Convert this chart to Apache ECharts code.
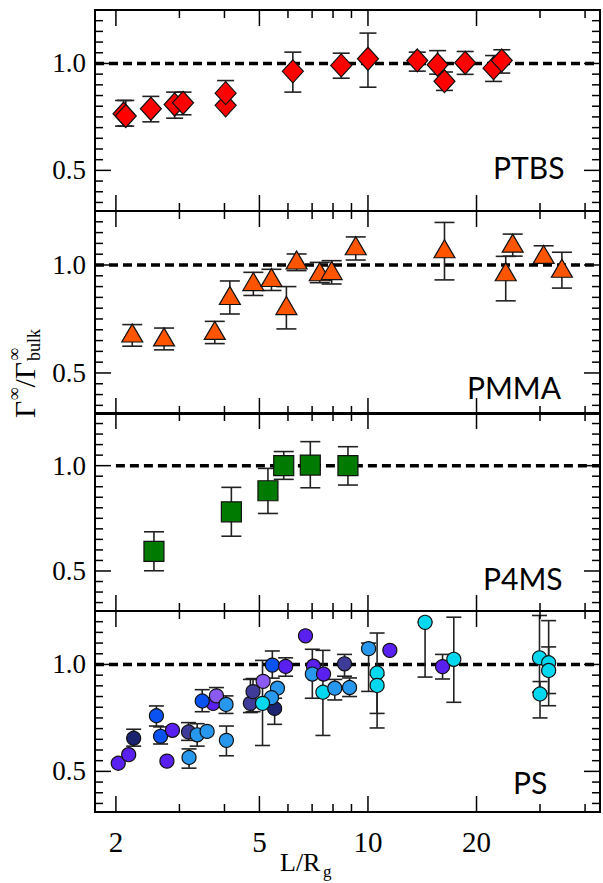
<!DOCTYPE html>
<html>
<head>
<meta charset="utf-8">
<script src="https://cdn.jsdelivr.net/npm/echarts@6/dist/echarts.min.js"></script>
<style>
html,body{margin:0;padding:0;background:#fff;}
#c{width:603px;height:883px;}
</style>
</head>
<body>
<div id="c"></div>
<script>
// ---------------- data ----------------
const panelNames = ['PTBS', 'PMMA', 'P4MS', 'PS'];

// PTBS (red diamonds)
const ptbsX  = [2.10, 2.13, 2.50, 2.91, 3.07, 4.03, 4.03, 6.19, 8.43, 10.0, 13.7, 15.6, 16.3, 18.6, 22.3, 23.5];
const ptbsY  = [0.765, 0.754, 0.788, 0.808, 0.816, 0.804, 0.861, 0.963, 0.991, 1.022, 1.014, 0.994, 0.917, 1.003, 0.978, 1.014];
const ptbsLo = [0.707, 0.707, 0.727, 0.744, 0.760, null, 0.800, 0.866, 0.931, 0.889, 0.964, 0.950, 0.874, 0.949, 0.916, 0.955];
const ptbsHi = [0.827, 0.827, 0.846, 0.866, 0.866, null, 0.920, 1.053, 1.048, 1.142, 1.053, 1.060, 0.960, 1.056, 1.037, 1.064];

// PMMA (orange triangles)
const pmmaX  = [2.22, 2.72, 3.76, 4.14, 4.81, 5.40, 5.94, 6.34, 7.35, 7.93, 9.25, 16.3, 24.1, 25.2, 30.7, 34.5];
const pmmaY  = [0.685, 0.667, 0.697, 0.859, 0.923, 0.942, 0.812, 1.023, 0.969, 0.974, 1.089, 1.075, 0.969, 1.101, 1.049, 0.985];
const pmmaLo = [0.624, 0.607, 0.636, 0.773, 0.859, 0.882, 0.704, 0.974, 0.918, 0.912, 1.023, 0.931, 0.834, 1.041, 1.008, 0.893];
const pmmaHi = [0.724, 0.708, 0.739, 0.926, 0.966, 0.980, 0.900, 1.051, 1.012, 1.020, 1.130, 1.197, 1.040, 1.143, 1.089, 1.059];

// P4MS (green squares)
const p4msX  = [2.55, 4.18, 5.28, 5.84, 6.92, 8.80];
const p4msY  = [0.593, 0.781, 0.881, 1.000, 1.003, 1.000];
const p4msLo = [0.501, 0.665, 0.773, 0.935, 0.895, 0.908];
const p4msHi = [0.686, 0.897, 0.987, 1.067, 1.114, 1.090];

// PS (circles, several molecular weights -> colour group)
const psX  = [2.03, 2.17, 2.24, 2.59, 2.66, 2.77, 2.87, 3.18, 3.19, 3.36, 3.58, 3.72, 3.47, 3.80, 4.04, 4.05,
              4.72, 4.80, 5.12, 5.51, 5.43, 5.91, 5.61, 5.40, 5.10, 6.71, 7.06, 7.01, 7.53, 7.50, 8.09, 8.61, 8.89,
              10.04, 10.6, 10.6, 11.5, 14.4, 16.1, 17.3, 29.9, 30.0, 31.7, 31.7];
const psY  = [0.538, 0.578, 0.655, 0.760, 0.664, 0.548, 0.692, 0.684, 0.565, 0.671, 0.687, 0.818, 0.829, 0.853, 0.813, 0.645,
              0.818, 0.873, 0.921, 0.794, 0.997, 0.991, 0.889, 0.845, 0.818, 1.134, 0.992, 0.955, 0.955, 0.870, 0.889, 1.003, 0.892,
              1.074, 0.960, 0.902, 1.066, 1.197, 0.990, 1.024, 1.031, 0.862, 1.008, 0.972];
const psLo = [null, null, 0.618, 0.712, 0.628, null, null, 0.645, 0.515, 0.618, null, null, 0.779, 0.810, 0.771, 0.573,
              0.775, 0.779, null, 0.720, 0.936, 0.945, null, null, 0.621, null, null, 0.842, null, 0.668, 0.834, 0.945, 0.850,
              0.874, 0.771, 0.703, null, 0.941, 0.932, 0.823, 0.870, 0.750, 0.807, 0.864];
const psHi = [null, null, 0.697, 0.806, 0.708, null, null, 0.728, 0.605, 0.723, null, null, 0.882, 0.892, 0.853, 0.712,
              0.930, 0.934, null, 0.842, 1.063, 1.031, null, null, 1.019, null, null, 1.071, null, 1.066, 0.930, 1.047, 0.937,
              1.100, 1.147, 0.950, null, 1.197, 1.047, 1.221, 1.229, 0.920, 1.205, 1.082];
const psGroup = [0, 0, 1, 2, 2, 0, 0, 4, 5, 5, 5, 0, 2, 3, 5, 5,
                 4, 4, 3, 1, 2, 0, 5, 5, 6, 0, 0, 5, 0, 6, 5, 4, 5,
                 5, 6, 6, 0, 6, 0, 6, 6, 6, 6, 6];
const psPalette = ['#5a20f0', '#1c2470', '#0a52f2', '#8a5af2', '#3e3c98', '#2798ee', '#00d8f0'];

// axes
const xRange = [1.75, 44];
const yRange = [0.31, 1.25];
const xTickValues = [2, 3, 4, 5, 6, 7, 8, 9, 10, 20, 30, 40];
const xTickMajor  = [1, 0, 0, 1, 0, 0, 0, 0, 1, 1, 0, 0];
const xLabelValues = [2, 5, 10, 20];
const yTickValues = [0.35, 0.40, 0.45, 0.50, 0.55, 0.60, 0.65, 0.70, 0.75, 0.80, 0.85, 0.90, 0.95, 1.00, 1.05, 1.10, 1.15, 1.20];
const yTickMajor  = [0, 0, 0, 1, 0, 0, 0, 0, 0, 0, 0, 0, 0, 1, 0, 0, 0, 0];
const yLabelValues = [0.5, 1.0];
const refValue = 1.0;
const refStart = [1.75, 1.75, 2.0, 1.75];

// ---------------- layout ----------------
const gridTops = [10, 211, 413, 611];
const gridHeights = [201, 203, 198, 201];
const capWidths = [17, 20, 20, 15];

const chart = echarts.init(document.getElementById('c'), null, {renderer: 'svg'});

const serif = 'Liberation Serif';

const grids = [], xAxes = [], yAxes = [], series = [];

function xTickRender(params, api) {
  const cs = params.coordSys;
  const px = api.coord([api.value(0), 1])[0];
  const len = api.value(1) ? 16 : 8;
  const st = {stroke: '#000', lineWidth: 1.5};
  return {type: 'group', children: [
    {type: 'line', shape: {x1: px, y1: cs.y, x2: px, y2: cs.y + len}, style: st},
    {type: 'line', shape: {x1: px, y1: cs.y + cs.height, x2: px, y2: cs.y + cs.height - len}, style: st}
  ]};
}
function yTickRender(params, api) {
  const cs = params.coordSys;
  const py = api.coord([2, api.value(1)])[1];
  const len = api.value(2) ? 16 : 8;
  const st = {stroke: '#000', lineWidth: 1.5};
  return {type: 'group', children: [
    {type: 'line', shape: {x1: cs.x, y1: py, x2: cs.x + len, y2: py}, style: st},
    {type: 'line', shape: {x1: cs.x + cs.width, y1: py, x2: cs.x + cs.width - len, y2: py}, style: st}
  ]};
}
function ebRender(capW) {
  return function (params, api) {
    const x = api.value(0), lo = api.value(1), hi = api.value(2);
    const p1 = api.coord([x, hi]);
    const p2 = api.coord([x, lo]);
    const h = capW / 2;
    const st = {stroke: '#222', lineWidth: 1.6};
    return {type: 'group', children: [
      {type: 'line', shape: {x1: p1[0], y1: p1[1], x2: p2[0], y2: p2[1]}, style: st},
      {type: 'line', shape: {x1: p1[0] - h, y1: p1[1], x2: p1[0] + h, y2: p1[1]}, style: st},
      {type: 'line', shape: {x1: p2[0] - h, y1: p2[1], x2: p2[0] + h, y2: p2[1]}, style: st}
    ]};
  };
}
function ebData(xs, lo, hi) {
  const out = [];
  xs.forEach((x, i) => { if (lo[i] != null && hi[i] != null) out.push([x, lo[i], hi[i]]); });
  return out;
}
function pts(xs, ys) { return xs.map((x, i) => [x, ys[i]]); }

const panels = [
  {x: ptbsX, y: ptbsY, lo: ptbsLo, hi: ptbsHi, symbol: 'diamond', size: [21, 23], color: '#ff0000'},
  {x: pmmaX, y: pmmaY, lo: pmmaLo, hi: pmmaHi, symbol: 'triangle', size: [21, 18], color: '#ff5500'},
  {x: p4msX, y: p4msY, lo: p4msLo, hi: p4msHi, symbol: 'rect', size: [20, 20], color: '#007a00'},
  {x: psX, y: psY, lo: psLo, hi: psHi, symbol: 'circle', size: 14, color: (p) => psPalette[psGroup[p.dataIndex]]}
];

panels.forEach((p, i) => {
  grids.push({left: 95, width: 505, top: gridTops[i], height: gridHeights[i],
    show: true, borderColor: '#000', borderWidth: 2, backgroundColor: 'transparent'});
  xAxes.push({type: 'log', logBase: 10, gridIndex: i, min: xRange[0], max: xRange[1],
    axisLine: {show: false}, axisTick: {show: false}, splitLine: {show: false},
    axisLabel: i === 3 ? {show: true, customValues: xLabelValues, formatter: v => String(Math.round(v)),
      fontFamily: serif, fontSize: 29, color: '#000', margin: 15} : {show: false}});
  yAxes.push({type: 'value', gridIndex: i, min: yRange[0], max: yRange[1],
    axisLine: {show: false}, axisTick: {show: false}, splitLine: {show: false},
    axisLabel: {show: true, customValues: yLabelValues, formatter: v => v.toFixed(1),
      fontFamily: serif, fontSize: 27, color: '#000', margin: 9}});

  series.push({type: 'line', xAxisIndex: i, yAxisIndex: i, data: [[refStart[i], refValue], [xRange[1], refValue]],
    symbol: 'none', silent: true, z: 1, lineStyle: {color: '#000', width: 3.5, type: [9, 5]}});
  series.push({type: 'custom', xAxisIndex: i, yAxisIndex: i, silent: true, z: 5,
    data: xTickValues.map((v, k) => [v, xTickMajor[k]]), renderItem: xTickRender});
  series.push({type: 'custom', xAxisIndex: i, yAxisIndex: i, silent: true, z: 5,
    data: yTickValues.map((v, k) => [2, v, yTickMajor[k]]), encode: {x: 0, y: 1}, renderItem: yTickRender});
  series.push({type: 'custom', xAxisIndex: i, yAxisIndex: i, silent: true, z: 2,
    data: ebData(p.x, p.lo, p.hi), encode: {x: 0, y: [1, 2]}, renderItem: ebRender(capWidths[i])});
  series.push({type: 'scatter', xAxisIndex: i, yAxisIndex: i, z: 3, symbol: p.symbol, symbolSize: p.size,
    data: pts(p.x, p.y), itemStyle: {color: p.color, borderColor: '#111', borderWidth: 1.2, opacity: 1}});
});

const labelFont = 'Lato';
const panelLabelPos = [[493, 167], [467, 387], [483, 578], [513, 782]];
const graphics = panelNames.map((n, i) => ({
  type: 'text', x: panelLabelPos[i][0], y: panelLabelPos[i][1], z: 10,
  style: {text: n, fontFamily: labelFont, fontSize: 30, fill: '#000', align: 'left', verticalAlign: 'middle'}
}));

// y-axis title  Γ∞/Γ∞bulk (rotated)
graphics.push({type: 'group', x: 24, y: 418, rotation: Math.PI / 2, z: 10, children: [
  {type: 'text', x: 0, y: 0, style: {text: 'Γ', fontFamily: serif, fontSize: 30, fill: '#000', verticalAlign: 'middle'}},
  {type: 'text', x: 17.5, y: -10, style: {text: '∞', fontFamily: serif, fontSize: 18, fill: '#000', verticalAlign: 'middle'}},
  {type: 'text', x: 30.5, y: 0, style: {text: '/Γ', fontFamily: serif, fontSize: 30, fill: '#000', verticalAlign: 'middle'}},
  {type: 'text', x: 57, y: -10, style: {text: '∞', fontFamily: serif, fontSize: 18, fill: '#000', verticalAlign: 'middle'}},
  {type: 'text', x: 57, y: 10, style: {text: 'bulk', fontFamily: serif, fontSize: 18, fill: '#000', verticalAlign: 'middle'}}
]});
// x-axis title L/Rg
graphics.push({type: 'text', x: 280, y: 862, z: 10,
  style: {text: 'L/R', fontFamily: serif, fontSize: 26, fill: '#000', verticalAlign: 'middle'}});
graphics.push({type: 'text', x: 323, y: 871, z: 10,
  style: {text: 'g', fontFamily: serif, fontSize: 17, fill: '#000', verticalAlign: 'middle'}});

chart.setOption({
  animation: false,
  backgroundColor: '#fff',
  grid: grids,
  xAxis: xAxes,
  yAxis: yAxes,
  series: series,
  graphic: graphics
});
</script>
</body>
</html>
